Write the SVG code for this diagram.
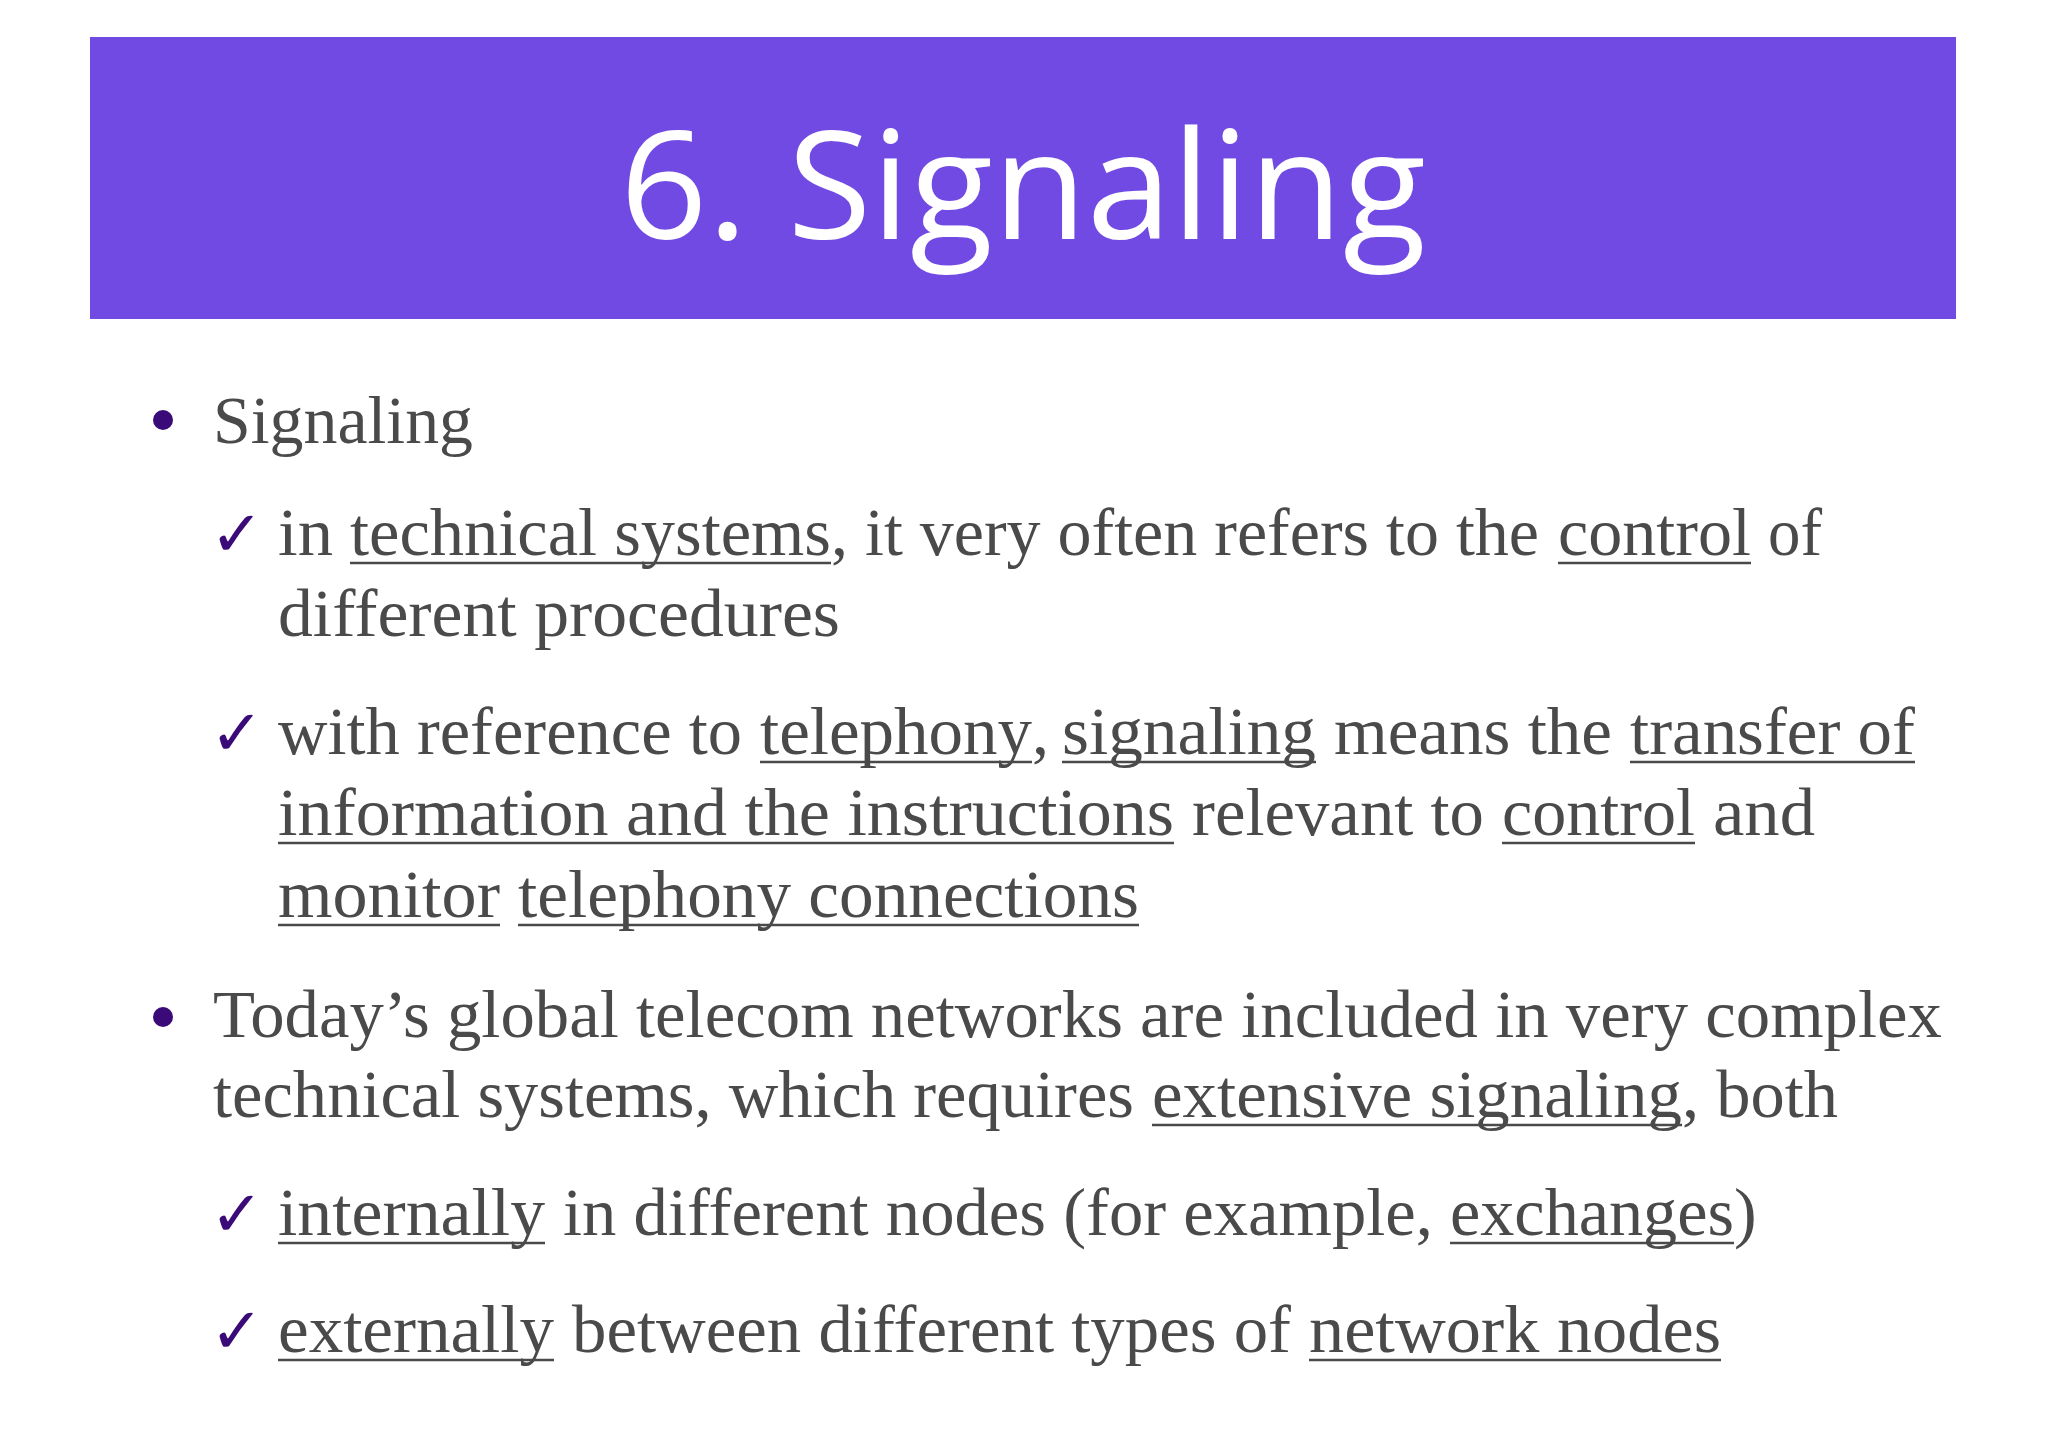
<svg xmlns="http://www.w3.org/2000/svg" width="2048" height="1448" viewBox="0 0 2048 1448">
<style>
.t{font-family:"Liberation Serif",serif;font-size:68px;fill:#4a4a4a}
.u{stroke:#4a4a4a;stroke-width:2.6}
.m{font-family:"DejaVu Sans",sans-serif;font-size:64px;fill:#3a0a78;font-weight:bold}
</style>
<rect width="2048" height="1448" fill="#fff"/>
<g id="title">
<rect x="90" y="37" width="1866" height="282" fill="#714ae3"/>
<text x="1023" y="239" text-anchor="middle" font-family="Open Sans, sans-serif" font-size="150" fill="#fff" textLength="806" lengthAdjust="spacingAndGlyphs">6. Signaling</text>
</g>
<g id="bullets">
<circle cx="163" cy="420" r="10" fill="#3a0a78"/>
<circle cx="163" cy="1017" r="10" fill="#3a0a78"/>
<text class="m" x="210" y="556">✓</text>
<text class="m" x="210" y="755">✓</text>
<text class="m" x="210" y="1236">✓</text>
<text class="m" x="210" y="1353">✓</text>
</g>
<g id="text">
<text class="t" x="213" y="443" textLength="260" lengthAdjust="spacingAndGlyphs">Signaling</text>

<text class="t" x="278" y="555" textLength="55" lengthAdjust="spacingAndGlyphs">in</text>
<text class="t" x="350" y="555" textLength="481" lengthAdjust="spacingAndGlyphs">technical systems</text>
<text class="t" x="831" y="555" textLength="708" lengthAdjust="spacingAndGlyphs">, it very often refers to the</text>
<text class="t" x="1558" y="555" textLength="193" lengthAdjust="spacingAndGlyphs">control</text>
<text class="t" x="1768" y="555" textLength="54" lengthAdjust="spacingAndGlyphs">of</text>
<text class="t" x="278" y="636" textLength="562" lengthAdjust="spacingAndGlyphs">different procedures</text>

<text class="t" x="278" y="754" textLength="464" lengthAdjust="spacingAndGlyphs">with reference to</text>
<text class="t" x="760" y="754" textLength="272" lengthAdjust="spacingAndGlyphs">telephony</text>
<text class="t" x="1032" y="754">,</text>
<text class="t" x="1062" y="754" textLength="254" lengthAdjust="spacingAndGlyphs">signaling</text>
<text class="t" x="1334" y="754" textLength="278" lengthAdjust="spacingAndGlyphs">means the</text>
<text class="t" x="1630" y="754" textLength="285" lengthAdjust="spacingAndGlyphs">transfer of</text>
<text class="t" x="278" y="835" textLength="896" lengthAdjust="spacingAndGlyphs">information and the instructions</text>
<text class="t" x="1192" y="835" textLength="292" lengthAdjust="spacingAndGlyphs">relevant to</text>
<text class="t" x="1502" y="835" textLength="193" lengthAdjust="spacingAndGlyphs">control</text>
<text class="t" x="1713" y="835" textLength="102" lengthAdjust="spacingAndGlyphs">and</text>
<text class="t" x="278" y="917" textLength="222" lengthAdjust="spacingAndGlyphs">monitor</text>
<text class="t" x="518" y="917" textLength="621" lengthAdjust="spacingAndGlyphs">telephony connections</text>

<text class="t" x="213" y="1037" textLength="1729" lengthAdjust="spacingAndGlyphs">Today’s global telecom networks are included in very complex</text>
<text class="t" x="213" y="1117" textLength="921" lengthAdjust="spacingAndGlyphs">technical systems, which requires</text>
<text class="t" x="1152" y="1117" textLength="530" lengthAdjust="spacingAndGlyphs">extensive signaling</text>
<text class="t" x="1682" y="1117" textLength="156" lengthAdjust="spacingAndGlyphs">, both</text>

<text class="t" x="278" y="1235" textLength="267" lengthAdjust="spacingAndGlyphs">internally</text>
<text class="t" x="563" y="1235" textLength="870" lengthAdjust="spacingAndGlyphs">in different nodes (for example,</text>
<text class="t" x="1450" y="1235" textLength="284" lengthAdjust="spacingAndGlyphs">exchanges</text>
<text class="t" x="1734" y="1235">)</text>

<text class="t" x="278" y="1352" textLength="276" lengthAdjust="spacingAndGlyphs">externally</text>
<text class="t" x="572" y="1352" textLength="719" lengthAdjust="spacingAndGlyphs">between different types of</text>
<text class="t" x="1309" y="1352" textLength="412" lengthAdjust="spacingAndGlyphs">network nodes</text>
</g>
<g id="underlines" class="u">
<line class="u" x1="350" y1="563" x2="831" y2="563"/>
<line class="u" x1="1558" y1="563" x2="1751" y2="563"/>
<line class="u" x1="760" y1="762" x2="1032" y2="762"/>
<line class="u" x1="1062" y1="762" x2="1316" y2="762"/>
<line class="u" x1="1630" y1="762" x2="1915" y2="762"/>
<line class="u" x1="278" y1="843" x2="1174" y2="843"/>
<line class="u" x1="1502" y1="843" x2="1695" y2="843"/>
<line class="u" x1="278" y1="925" x2="500" y2="925"/>
<line class="u" x1="518" y1="925" x2="1139" y2="925"/>
<line class="u" x1="1152" y1="1125" x2="1682" y2="1125"/>
<line class="u" x1="278" y1="1243" x2="545" y2="1243"/>
<line class="u" x1="1450" y1="1243" x2="1734" y2="1243"/>
<line class="u" x1="278" y1="1360" x2="554" y2="1360"/>
<line class="u" x1="1309" y1="1360" x2="1721" y2="1360"/>
</g>
</svg>
